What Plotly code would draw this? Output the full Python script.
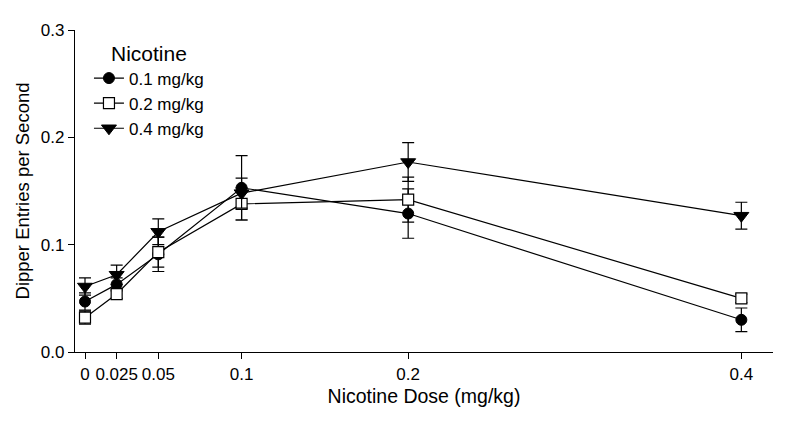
import plotly.graph_objects as go

# Dose positions on the x axis (the 0 dose sits slightly right of the y axis in the original)
dose_x = [0.006, 0.025, 0.05, 0.1, 0.2, 0.4]
dose_tick_labels = ["0", "0.025", "0.05", "0.1", "0.2", "0.4"]

series_names = ["0.1 mg/kg", "0.2 mg/kg", "0.4 mg/kg"]

mean_01 = [0.047, 0.063, 0.091, 0.153, 0.129, 0.030]
sem_01 = [0.008, 0.006, 0.016, 0.030, 0.023, 0.011]

mean_02 = [0.032, 0.054, 0.093, 0.138, 0.142, 0.050]
sem_02 = [0.006, 0.004, 0.014, 0.015, 0.021, 0.004]

mean_04 = [0.061, 0.072, 0.112, 0.148, 0.177, 0.127]
sem_04 = [0.008, 0.009, 0.012, 0.014, 0.018, 0.0125]

y_tick_vals = [0.0, 0.1, 0.2, 0.3]
y_tick_labels = ["0.0", "0.1", "0.2", "0.3"]

FONT = "Liberation Sans, Arial, sans-serif"

styles = [
    dict(symbol="circle", color="black", size=11, line=dict(color="black", width=1)),
    dict(symbol="square", color="white", size=11, line=dict(color="black", width=1.2)),
    dict(symbol="triangle-down", color="black", size=13, line=dict(color="black", width=1)),
]

fig = go.Figure()
for name, means, sems, st in zip(series_names, [mean_01, mean_02, mean_04],
                                 [sem_01, sem_02, sem_04], styles):
    fig.add_trace(go.Scatter(
        x=dose_x, y=means, name=name, mode="lines+markers",
        line=dict(color="black", width=1.2),
        marker=st,
        error_y=dict(type="data", array=sems, visible=True,
                     color="black", thickness=1.2, width=6),
    ))

fig.update_layout(
    width=792, height=413,
    margin=dict(l=67, r=27, t=22, b=69),
    paper_bgcolor="white", plot_bgcolor="white",
    font=dict(family=FONT, size=17, color="black"),
    showlegend=True,
    legend=dict(
        x=0.02, y=0.99, xanchor="left", yanchor="top",
        bgcolor="rgba(0,0,0,0)",
        title=dict(text="Nicotine", side="top center", font=dict(size=21)),
        font=dict(size=17),
        itemwidth=30,
    ),
    xaxis=dict(
        range=[0, 0.419],
        tickvals=dose_x, ticktext=dose_tick_labels,
        showline=True, linecolor="black", linewidth=1.2,
        ticks="outside", ticklen=6, tickcolor="black", tickwidth=1.2,
        showgrid=False, zeroline=False,
        title=dict(text="Nicotine Dose (mg/kg)", font=dict(size=19.5), standoff=6),
    ),
    yaxis=dict(
        range=[0, 0.3],
        tickvals=y_tick_vals, ticktext=y_tick_labels,
        showline=True, linecolor="black", linewidth=1.2,
        ticks="outside", ticklen=6, tickcolor="black", tickwidth=1.2,
        showgrid=False, zeroline=False,
        title=dict(text="Dipper Entries per Second", font=dict(size=18.5), standoff=6),
    ),
)

fig.write_html("out.html")
